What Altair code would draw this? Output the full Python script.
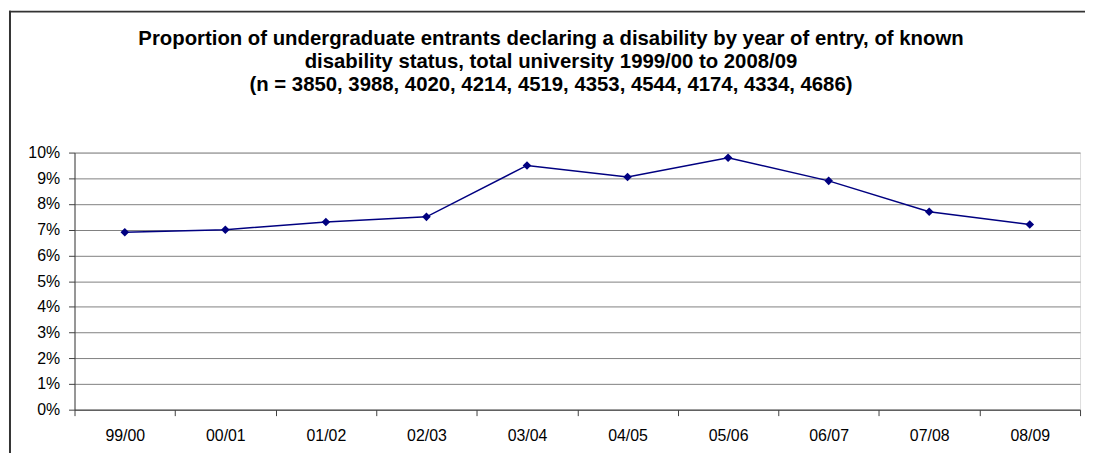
import altair as alt
import pandas as pd

years = ["99/00", "00/01", "01/02", "02/03", "03/04", "04/05", "05/06", "06/07", "07/08", "08/09"]
proportion = [0.069, 0.070, 0.073, 0.075, 0.095, 0.0905, 0.098, 0.089, 0.077, 0.072]

title_lines = [
    "Proportion of undergraduate entrants declaring a disability by year of entry, of known",
    "disability status, total university 1999/00 to 2008/09",
    "(n = 3850, 3988, 4020, 4214, 4519, 4353, 4544, 4174, 4334, 4686)",
]

df = pd.DataFrame({"year": years, "value": proportion})

FONT = "Liberation Sans"
W, H = 1013, 259

x_enc = alt.X(
    "year:N",
    sort=years,
    bandPosition=0.5,
    scale=alt.Scale(type="band", paddingInner=0, paddingOuter=0),
    axis=alt.Axis(
        title=None,
        labelAngle=0,
        tickBand="extent",
        tickSize=6,
        labelPadding=12,
        domainColor="#404040",
        tickColor="#404040",
        labelFont=FONT,
        labelFontSize=16,
        labelColor="#000000",
        grid=False,
    ),
)
y_enc = alt.Y(
    "value:Q",
    scale=alt.Scale(domain=[0, 0.1], nice=False),
    axis=alt.Axis(
        title=None,
        format=".0%",
        values=[i / 100 for i in range(11)],
        tickSize=6,
        labelPadding=9,
        domainColor="#404040",
        tickColor="#404040",
        gridColor="#808080",
        gridWidth=1,
        labelFont=FONT,
        labelFontSize=16,
        labelColor="#000000",
    ),
)

line = alt.Chart(df).mark_line(
    color="#000080", strokeWidth=1.5,
    point=alt.OverlayMarkDef(shape="diamond", size=75, filled=True, color="#000080"),
).encode(x=x_enc, y=y_enc)

frame_top = alt.Chart(alt.Data(values=[{}])).mark_rule(
    stroke="#333333", strokeWidth=2, clip=False
).encode(
    x=alt.value(-66), x2=alt.value(W + 20),
    y=alt.value(-142),
)
frame_left = alt.Chart(alt.Data(values=[{}])).mark_rule(
    stroke="#333333", strokeWidth=2, clip=False
).encode(
    x=alt.value(-65),
    y=alt.value(-143), y2=alt.value(H + 60),
)

titles = []
for i, t in enumerate(title_lines):
    titles.append(
        alt.Chart(alt.Data(values=[{"t": t}])).mark_text(
            font=FONT, fontSize=20.5, fontWeight="bold", color="#000000",
            align="center", baseline="middle", clip=False,
        ).encode(
            text="t:N",
            x=alt.value(480),
            y=alt.value(-114 + 23 * i),
        )
    )

chart = alt.layer(frame_top, frame_left, line, *titles).properties(
    width=W, height=H,
    autosize=alt.AutoSizeParams(type="none"),
    padding={"left": 67, "top": 144, "right": 5, "bottom": 42},
).configure_view(
    stroke="#808080", strokeWidth=2
).configure(background="white")

chart.save("out.html", embed_options={"renderer": "svg", "actions": False})
